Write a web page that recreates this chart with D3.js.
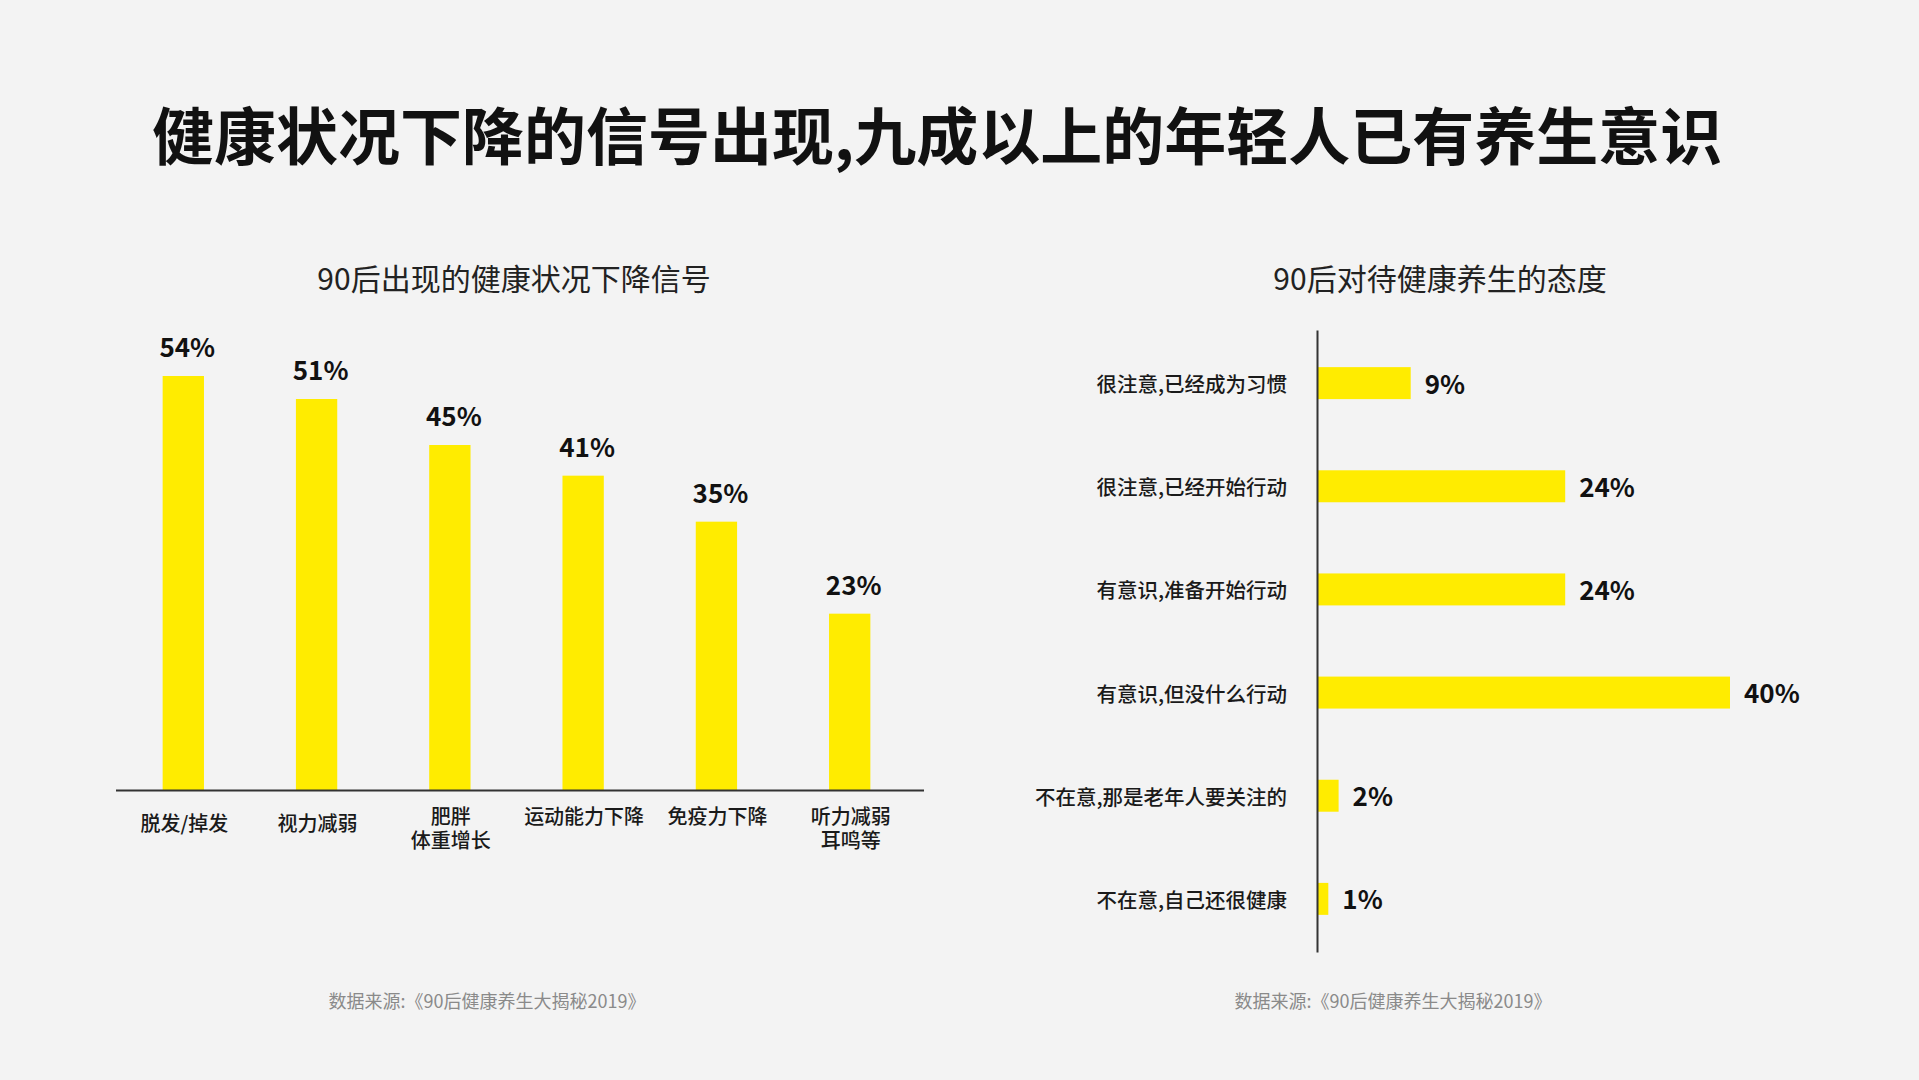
<html>
    <head>
        <meta charset="utf-8">
        <style>
            body { margin: 0; background: #f3f3f3; }
            text { font-family: "Noto Sans CJK SC", "Noto Sans", sans-serif; }
        </style>
    </head>
    <body>
        <script src="https://d3js.org/d3.v7.min.js"></script>
        <div id="my_dataviz"></div>

        <script type='text/JavaScript'>

            // left chart: health decline signals
            var signalLabels = [["脱发/掉发"], ["视力减弱"], ["肥胖", "体重增长"], ["运动能力下降"], ["免疫力下降"], ["听力减弱", "耳鸣等"]];
            var signalValues = [54, 51, 45, 41, 35, 23];

            // right chart: attitude toward health care
            var attitudeLabels = ["很注意,已经成为习惯", "很注意,已经开始行动", "有意识,准备开始行动", "有意识,但没什么行动", "不在意,那是老年人要关注的", "不在意,自己还很健康"];
            var attitudeValues = [9, 24, 24, 40, 2, 1];

            var title = "健康状况下降的信号出现,九成以上的年轻人已有养生意识";
            var subTitles = ["90后出现的健康状况下降信号", "90后对待健康养生的态度"];
            var source = "数据来源:《90后健康养生大揭秘2019》";

            var yellow = "#ffec00";

            var svg = d3.select("#my_dataviz")
                .append("svg")
                    .attr("width", 1919)
                    .attr("height", 1080);

            svg.append("rect")
                .attr("width", 1919)
                .attr("height", 1080)
                .attr("fill", "#f3f3f3");

            // main title
            svg.append("text")
                .attr("x", 152)
                .attr("y", 133)
                .attr("dominant-baseline", "central")
                .style("font-size", "62px")
                .style("font-weight", "bold")
                .attr("fill", "#111")
                .text(title);

            // sub titles and sources
            var centers = [514, 1440];
            subTitles.forEach(function(t, i) {
                svg.append("text")
                    .attr("x", centers[i])
                    .attr("y", 277)
                    .attr("text-anchor", "middle")
                    .attr("dominant-baseline", "central")
                    .style("font-size", "30px")
                    .attr("fill", "#222")
                    .text(t);
            });
            [487, 1393].forEach(function(cx) {
                svg.append("text")
                    .attr("x", cx)
                    .attr("y", 1000)
                    .attr("text-anchor", "middle")
                    .attr("dominant-baseline", "central")
                    .style("font-size", "18px")
                    .attr("fill", "#8a8a8a")
                    .text(source);
            });

            // ---- left: vertical bars
            var x = d3.scaleBand()
                .domain(d3.range(signalValues.length))
                .range([116, 917])
                .paddingInner(0.69)
                .paddingOuter(0.35);

            var y = d3.scaleLinear()
                .domain([0, 54])
                .range([790, 376]);

            svg.selectAll("rect.sig")
                .data(signalValues)
                .enter()
                .append("rect")
                .attr("class", "sig")
                .attr("x", function(d, i) { return x(i); })
                .attr("y", function(d) { return y(d); })
                .attr("width", x.bandwidth())
                .attr("height", function(d) { return y(0) - y(d); })
                .attr("fill", yellow);

            svg.selectAll("text.sigval")
                .data(signalValues)
                .enter()
                .append("text")
                .attr("class", "sigval")
                .attr("x", function(d, i) { return x(i) + x.bandwidth() / 2 + 4; })
                .attr("y", function(d) { return y(d) - 19; })
                .attr("text-anchor", "middle")
                .style("font-size", "26px")
                .style("font-weight", "bold")
                .attr("fill", "#111")
                .text(function(d) { return d + "%"; });

            svg.append("line")
                .attr("x1", 116)
                .attr("x2", 924)
                .attr("y1", y(0) + 0.5)
                .attr("y2", y(0) + 0.5)
                .attr("stroke", "#333")
                .attr("stroke-width", 2);

            // category labels, one text per line
            signalLabels.forEach(function(lines, i) {
                lines.forEach(function(l, j) {
                    svg.append("text")
                        .attr("x", x(i) + x.bandwidth() / 2 + 1)
                        .attr("y", 815 + (i < 2 ? 7 : 0) + j * 24)
                        .attr("text-anchor", "middle")
                        .attr("dominant-baseline", "central")
                        .style("font-size", "20px")
                        .style("font-weight", 500)
                        .attr("fill", "#1a1a1a")
                        .text(l);
                });
            });

            // ---- right: horizontal bars
            var yb = d3.scaleBand()
                .domain(attitudeLabels)
                .range([330, 952])
                .paddingInner(0.69)
                .paddingOuter(0.36);

            var xb = d3.scaleLinear()
                .domain([0, 40])
                .range([1318, 1730]);

            svg.selectAll("rect.att")
                .data(attitudeValues)
                .enter()
                .append("rect")
                .attr("class", "att")
                .attr("x", xb(0))
                .attr("y", function(d, i) { return yb(attitudeLabels[i]); })
                .attr("width", function(d) { return xb(d) - xb(0); })
                .attr("height", yb.bandwidth())
                .attr("fill", yellow);

            svg.selectAll("text.attval")
                .data(attitudeValues)
                .enter()
                .append("text")
                .attr("class", "attval")
                .attr("x", function(d) { return xb(d) + 14; })
                .attr("y", function(d, i) { return yb(attitudeLabels[i]) + yb.bandwidth() / 2 - 1; })
                .attr("dominant-baseline", "central")
                .style("font-size", "26px")
                .style("font-weight", "bold")
                .attr("fill", "#111")
                .text(function(d) { return d + "%"; });

            svg.append("g")
                .attr("transform", "translate(" + (xb(0) - 1) + ",0)")
                .call(d3.axisLeft(yb).tickSize(0).tickPadding(30))
                .call(function(g) {
                    g.select(".domain").attr("stroke", "#333").attr("stroke-width", 2);
                    g.selectAll("text")
                        .attr("fill", "#1a1a1a")
                        .attr("dy", null)
                        .attr("dominant-baseline", "central")
                        .style("font-size", "20.5px")
                        .style("font-weight", 500)
                        .style("font-family", "\"Noto Sans CJK SC\", sans-serif");
                });
        </script>
    </body>
</html>
